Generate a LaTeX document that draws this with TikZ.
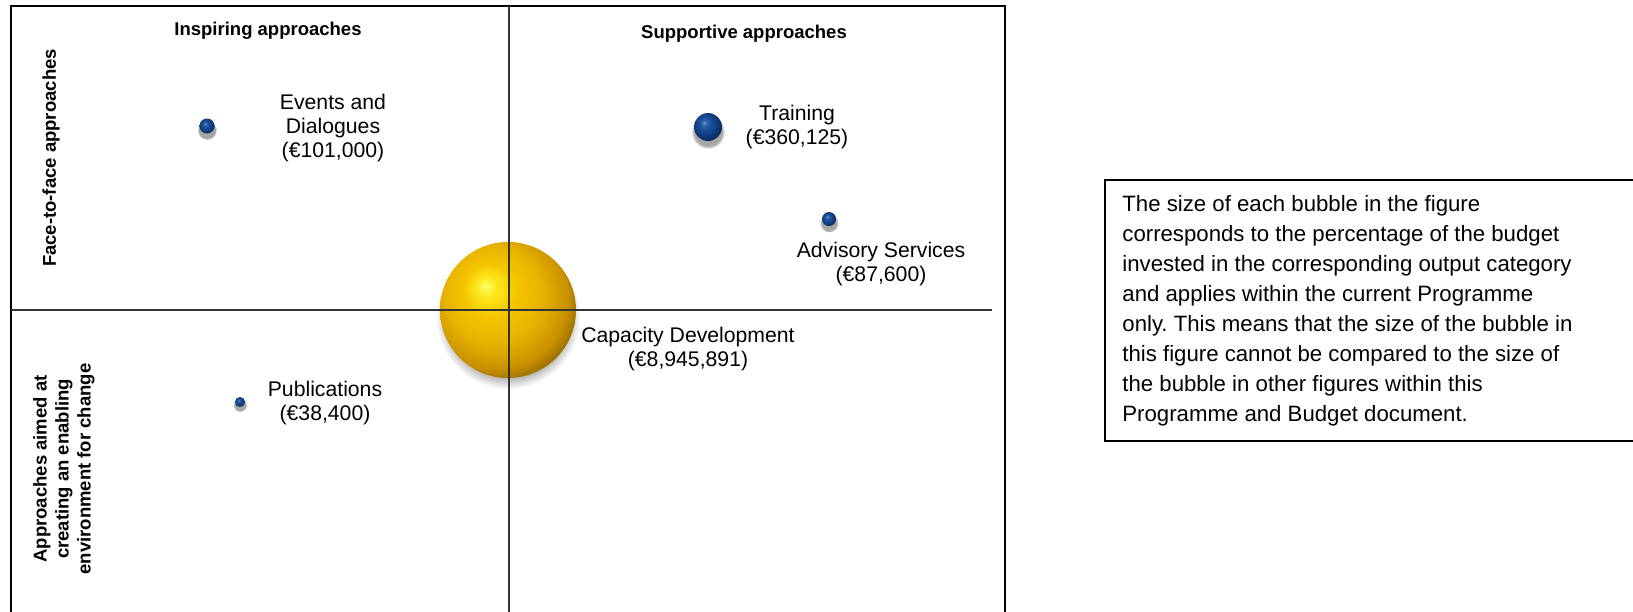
\documentclass[tikz,border=0pt]{standalone}
\usepackage{fontspec}
\setmainfont{Liberation Sans}
\usetikzlibrary{fadings}
\frenchspacing
\pgfdeclareradialshading{goldball}{\pgfqpoint{-8.5bp}{9bp}}{%
  color(0bp)=(rgb,255:red,255;green,252;blue,100);
  color(4bp)=(rgb,255:red,252;green,230;blue,25);
  color(10bp)=(rgb,255:red,244;green,196;blue,0);
  color(18bp)=(rgb,255:red,232;green,178;blue,0);
  color(26bp)=(rgb,255:red,200;green,145;blue,0);
  color(32bp)=(rgb,255:red,130;green,92;blue,0);
  color(38bp)=(rgb,255:red,95;green,65;blue,0);
  color(50bp)=(rgb,255:red,95;green,65;blue,0)}
\pgfdeclareradialshading{blueball}{\pgfqpoint{-7bp}{8bp}}{%
  color(0bp)=(rgb,255:red,115;green,155;blue,215);
  color(4bp)=(rgb,255:red,50;green,105;blue,180);
  color(10bp)=(rgb,255:red,28;green,80;blue,155);
  color(18bp)=(rgb,255:red,20;green,65;blue,135);
  color(26bp)=(rgb,255:red,12;green,45;blue,100);
  color(34bp)=(rgb,255:red,6;green,28;blue,68);
  color(50bp)=(rgb,255:red,6;green,28;blue,68)}
\tikzset{
  sph/.style={circle, inner sep=0pt, outer sep=0pt},
  gold/.style={sph, shading=goldball},
  bluesph/.style={sph, shading=blueball},
  softshadow/.style={fill=black, opacity=0.35, path fading=circle with fuzzy edge 20 percent},
  frameline/.style={line width=1pt, black},
  divider/.style={line width=0.65pt, black!80},
  lbl/.style={align=center, inner sep=0pt, font=\fontsize{10.6}{12}\selectfont},
  hdr/.style={align=center, inner sep=0pt, font=\fontsize{9.25}{11}\selectfont\bfseries},
  note/.style={align=left, inner sep=0pt, anchor=north west, font=\fontsize{11.1}{15}\selectfont}
}
\begin{document}
\begin{tikzpicture}[x=0.5pt,y=-0.5pt]
\clip (0,0) rectangle (1633,611);
\fill[white] (0,0) rectangle (1633,611);

% shadows
\fill[softshadow] (508,317) circle[radius=72];
\fill[softshadow] (207,130) circle[radius=10];
\fill[softshadow] (708,132) circle[radius=17];
\fill[softshadow] (829,223) circle[radius=9.5];
\fill[softshadow] (240,405) circle[radius=7];

% bubbles
\node[gold, minimum size=68pt] (cap) at (508,310) {};
\node[bluesph, minimum size=7.5pt] (ev) at (207,126) {};
\node[bluesph, minimum size=14pt] (tr) at (708,127) {};
\node[bluesph, minimum size=7pt] (adv) at (829,219) {};
\node[bluesph, minimum size=5pt] (pub) at (240,402) {};

% frame and quadrant lines
\draw[frameline] (11,640) -- (11,6) -- (1005,6) -- (1005,640);
\draw[divider] (509,6) -- (509,640);
\draw[divider] (11,310) -- (992,310);

% headers
\node[hdr] (hinsp) at (268,31) {Inspiring approaches};
\node[hdr] (hsupp) at (744,34) {Supportive approaches};
\node[hdr, rotate=90] (hface) at (51,158) {Face-to-face approaches};
\node[hdr, rotate=90] (henv) at (64,469) {Approaches aimed at\\creating an enabling\\environment for change};

% labels
\node[lbl] (tev) at (333,128) {Events and\\Dialogues\\(€101,000)};
\node[lbl] (ttr) at (797,127) {Training\\(€360,125)};
\node[lbl] (tadv) at (881,264) {Advisory Services\\(€87,600)};
\node[lbl] (tcap) at (688,349) {Capacity Development\\(€8,945,891)};
\node[lbl] (tpub) at (325,403) {Publications\\(€38,400)};

% note box
\draw[frameline] (1105,180) rectangle (1700,441);
\node[note] (notetext) at (1122,195) {The size of each bubble in the figure\\
corresponds to the percentage of the budget\\
invested in the corresponding output category\\
and applies within the current Programme\\
only. This means that the size of the bubble in\\
this figure cannot be compared to the size of\\
the bubble in other figures within this\\
Programme and Budget document.};
\end{tikzpicture}
\end{document}
